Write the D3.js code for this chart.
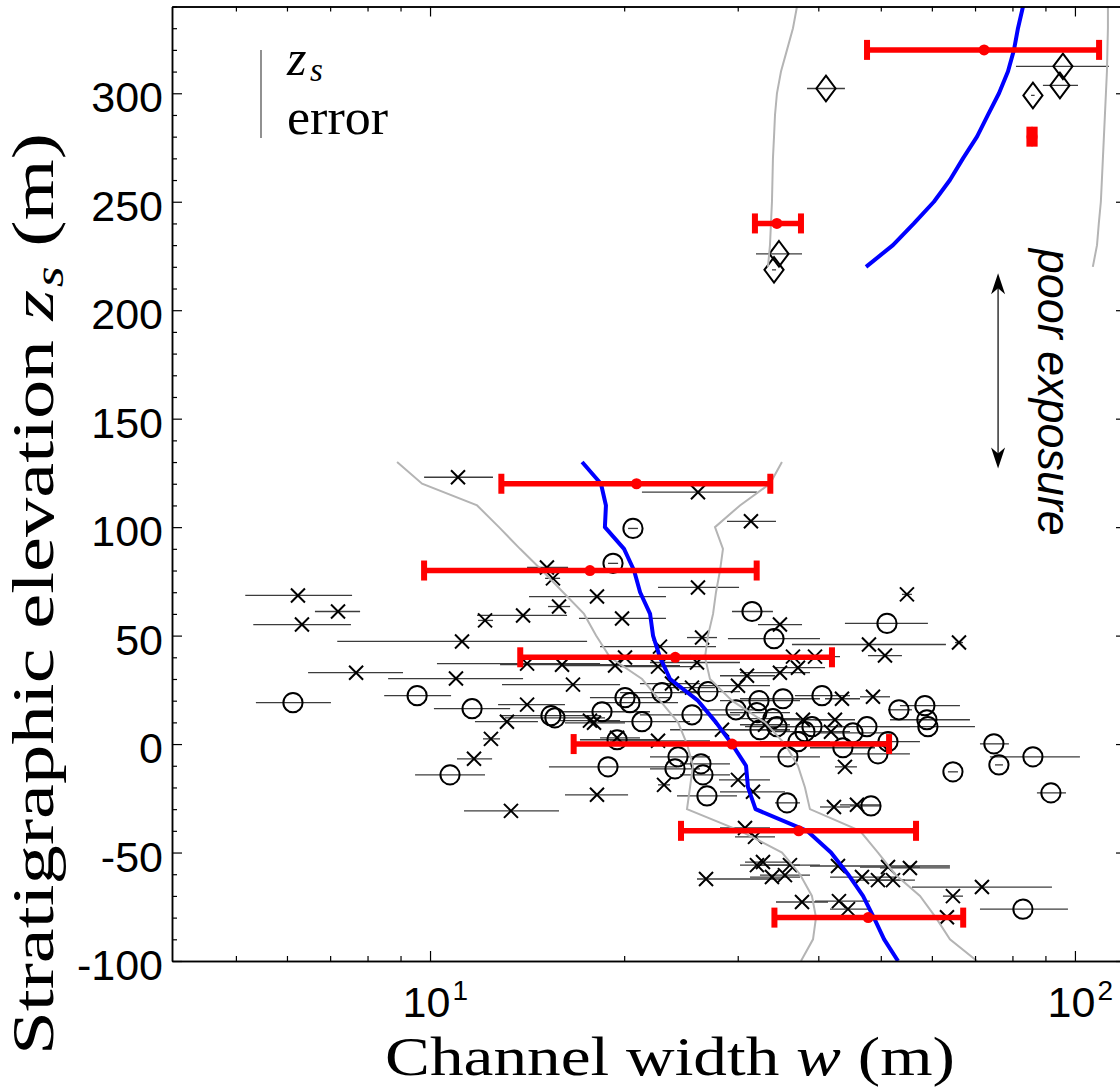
<!DOCTYPE html>
<html>
<head>
<meta charset="utf-8">
<title>Channel width versus stratigraphic elevation</title>
<script src="https://cdn.jsdelivr.net/npm/d3@7/dist/d3.min.js"></script>
<style>
  html, body { margin: 0; padding: 0; background: #fff; }
  svg { display: block; }
</style>
</head>
<body>
<svg id="chart" width="1120" height="1087"></svg>
<script>
// ---------------------------------------------------------------
// Measurements: [width w (m), elevation z_s (m), w low, w high]
// ---------------------------------------------------------------
const crosses = [
  [11.05,123.0,9.79,12.52],[26.03,116.1,21.31,32.13],[31.45,102.7,28.87,34.39],
  [15.18,81.4,14.14,16.37],[15.51,76.4,15.08,15.91],[26.03,72.2,22.57,30.14],
  [18.15,68.0,14.24,23.22],[15.85,63.4,15.24,16.49],[13.94,59.3,11.83,16.31],
  [12.17,57.0,11.87,12.52],[19.85,57.9,17.02,23.22],[34.88,55.1,32.25,37.74],
  [11.21,47.3,7.18,17.52],[26.41,49.1,25.03,27.86],[22.73,44.9,18.35,27.76],
  [6.24,68.5,5.17,7.57],[7.20,61.1,6.63,7.79],[6.33,55.1,5.32,7.54],
  [7.68,32.9,6.47,9.08],[10.97,30.2,8.61,13.94],[13.16,10.3,11.74,14.70],
  [12.43,2.4,12.08,12.84],[11.70,-6.8,11.01,12.48],[13.35,-30.8,11.29,15.85],
  [14.14,18.2,12.75,16.19],[14.14,37.1,10.25,18.35],[47.93,45.9,36.41,63.09],
  [50.75,40.8,47.76,53.92],[54.89,69.0,53.92,55.88],[66.10,46.8,65.16,67.05],
  [20.06,39.9,18.22,21.93],[16.02,36.6,12.84,19.71],[19.36,36.2,15.91,24.41],
  [22.57,35.7,19.71,26.22],[25.94,37.6,21.93,30.24],[36.54,40.3,33.66,39.81],
  [39.53,40.3,36.15,43.22],[37.20,35.2,34.27,40.97],[34.88,32.9,30.24,38.83],
  [31.01,31.5,28.16,34.27],[16.66,27.4,12.93,19.71],[23.72,27.9,21.16,26.22],
  [25.48,26.0,23.56,27.66],[30.03,26.9,26.22,33.66],[43.53,20.9,40.97,46.42],
  [48.62,21.8,46.42,51.67],[17.70,10.8,15.91,19.71],[17.96,9.8,16.19,20.06],
  [28.36,6.6,23.56,36.15],[42.45,11.2,39.53,45.60],[41.85,5.7,38.83,44.79],
  [19.50,2.9,18.35,21.16],[22.57,1.5,19.01,27.17],[43.99,-10.5,42.45,45.92],
  [23.06,-18.8,22.57,23.56],[30.03,-16.5,28.06,33.66],[31.68,-22.0,28.16,35.51],
  [18.15,-23.4,16.19,20.28],[42.30,-29.0,40.24,44.79],[45.92,-28.0,43.22,49.85],
  [30.79,-38.7,28.16,33.66],[31.91,-42.8,29.71,34.27],[32.13,-55.8,30.24,37.47],
  [32.83,-54.4,30.79,36.15],[36.15,-55.8,32.48,40.24],[42.91,-56.2,38.83,64.00],
  [51.30,-56.7,46.42,57.50],[55.48,-57.1,49.85,64.00],[26.79,-62.2,25.94,34.88],
  [33.90,-61.3,31.34,37.47],[35.51,-60.4,32.48,38.83],[46.75,-61.3,41.71,52.59],
  [49.50,-62.7,44.79,54.50],[52.22,-62.7,48.10,56.48],[71.75,-65.9,55.88,92.12],
  [64.69,-70.1,62.42,67.05],[37.74,-72.8,34.39,41.41],[43.06,-72.4,39.53,48.10],
  [44.47,-76.1,41.71,48.10],[63.32,-79.8,59.58,66.33],[33.07,8.9,30.24,36.15],
  [37.87,11.2,34.88,41.71]
];

const circles = [
  [20.64,99.4,20.28,21.01],[19.22,83.3,18.88,19.57],[31.57,61.1,29.39,34.02],
  [34.15,48.6,28.97,40.24],[51.12,55.6,43.99,59.16],[6.13,19.1,5.37,7.02],
  [9.55,22.3,8.49,10.78],[11.62,16.3,10.14,13.31],[10.74,-14.2,9.48,12.17],
  [15.40,13.1,12.84,18.35],[15.62,12.1,13.07,18.68],[20.06,21.4,17.70,23.56],
  [20.42,19.1,18.15,24.24],[18.48,14.9,15.91,21.93],[21.31,10.3,18.35,25.30],
  [22.89,23.7,19.71,26.22],[25.48,13.5,21.16,30.24],[26.98,24.2,24.41,30.24],
  [29.81,15.8,26.22,32.48],[32.37,20.0,28.16,37.47],[32.13,14.5,29.18,36.15],
  [35.26,20.9,30.24,40.24],[40.53,22.3,36.80,44.79],[53.35,15.8,51.30,55.88],
  [58.53,17.7,53.54,66.33],[58.95,11.2,51.67,68.74],[59.16,8.0,49.85,69.98],
  [34.02,11.7,30.24,37.47],[34.51,8.0,30.79,38.83],[32.48,6.6,29.18,36.15],
  [39.11,8.0,34.88,44.79],[38.14,5.7,34.27,43.22],[47.59,8.0,41.71,55.48],
  [45.27,5.2,40.24,51.67],[51.30,1.1,46.42,57.50],[37.20,1.1,32.48,41.71],
  [43.68,-1.7,38.83,48.97],[49.50,-4.5,44.79,55.48],[35.89,-5.9,32.48,40.24],
  [19.50,2.0,17.08,22.73],[24.24,-5.9,21.93,27.17],[26.31,-9.1,24.41,29.18],
  [23.98,-11.4,21.93,26.22],[26.50,-14.2,24.41,29.18],[18.88,-10.5,15.29,24.15],
  [26.88,-23.9,24.15,29.92],[35.77,-27.1,34.27,37.47],[48.28,-28.5,44.79,49.85],
  [74.88,0.1,71.24,79.00],[76.23,-9.6,75.16,77.34],[86.07,-5.9,73.82,101.8],
  [64.69,-12.8,63.54,65.86],[91.79,-22.5,87.31,96.85],[83.06,-76.1,71.24,97.54]
];

const diamonds = [
  [41.11,302.2,38.42,43.99],[95.80,312.4,81.01,112.9],[94.78,303.6,89.20,101.1],
  [86.07,299.0,85.5,86.6],[34.76,226.0,32.02,37.74],[34.15,218.6,33.9,34.4]
];

// Binned statistics (red): elevation, mean width, lower / upper width
const binZ    = [320, 280, 240, 120, 80, 40, 0, -40, -80];
const binMean = [72.3, 85.8, 34.5, 20.9, 17.7, 24.0, 29.4, 37.3, 47.8];
const binLow  = [47.6, 85.0, 31.9, 12.9, 9.79, 13.8, 16.7, 24.5, 34.2];
const binHigh = [109.0, 86.6, 37.6, 33.7, 32.1, 42.0, 51.5, 56.7, 67.1];

// Running mean (blue) and envelope (grey), lower section
const zLower    = [130,120,110,100,90,80,70,60,50,40,30,20,10,0,-10,-20,-30,-40,-50,-60,-70,-80,-90,-100];
const meanLower = [17.21,18.41,18.74,18.67,19.99,20.72,21.17,21.94,22.17,22.73,23.56,26.03,27.76,29.39,30.90,31.12,31.97,38.42,41.85,44.47,46.92,48.78,50.60,53.17];
const lowLower  = [8.89,9.72,11.83,12.79,13.79,14.92,16.08,17.33,18.09,19.01,21.32,22.73,24.24,25.03,25.57,25.30,25.03,30.25,35.14,37.46,39.10,39.67,39.25,37.60];
const highLower = [35.13,33.66,30.24,27.66,28.46,28.16,27.76,27.47,26.98,26.69,27.17,29.39,33.07,35.51,37.19,38.14,38.82,46.42,49.50,52.60,57.51,60.87,64.00,70.49];

// Running mean and envelope, upper section
const zUpper    = [220,230,240,250,260,270,280,290,300,310,320,330,340];
const meanUpper = [47.43,52.22,56.28,60.44,64.00,67.06,70.50,73.30,76.25,78.73,80.44,81.60,83.08];
const lowUpper  = [33.42,33.66,33.78,33.90,33.96,34.02,34.15,34.27,34.51,35.01,35.77,36.54,37.07];
const highUpper = [106.6,108.2,108.9,109.7,110.1,110.5,110.9,111.3,111.7,112.1,112.3,112.5,112.5];

// Axis ticks
const yMajor = [-100, -50, 0, 50, 100, 150, 200, 250, 300];
const yMinor = d3.range(-100, 341, 10).filter(v => v % 50 !== 0);
const xMajor = [10, 100];
const xMinor = [5, 6, 7, 8, 9, 20, 30, 40, 50, 60, 70, 80, 90];

// Annotation for the gap in the section
const gapArrowW = 76;
const gapArrowZ = [217, 127];
const gapTextW = 87.6;
const gapTextZ = 228.3;

// ---------------------------------------------------------------
const plot = {left: 172, right: 1126, top: 6.5, bottom: 961};
const x = d3.scaleLog().domain([3.98, 120]).range([plot.left, plot.right]);
const y = d3.scaleLinear().domain([-100, 340]).range([plot.bottom, plot.top]);

const SANS = '"Liberation Sans", Arial, Helvetica, sans-serif';
const SERIF = '"Liberation Serif", "Times New Roman", serif';

const svg = d3.select('#chart');
svg.append('rect').attr('width', 1120).attr('height', 1087).attr('fill', '#fff');

svg.append('defs').append('clipPath').attr('id', 'plot-clip')
  .append('rect')
  .attr('x', plot.left).attr('y', plot.top)
  .attr('width', plot.right - plot.left).attr('height', plot.bottom - plot.top);

const body = svg.append('g').attr('clip-path', 'url(#plot-clip)');

// --- horizontal error bars of the individual channels
const allPoints = crosses.concat(circles, diamonds);
body.append('g').attr('class', 'errbars')
  .selectAll('line').data(allPoints).join('line')
  .attr('x1', d => x(d[2])).attr('x2', d => x(d[3]))
  .attr('y1', d => y(d[1])).attr('y2', d => y(d[1]))
  .attr('stroke', '#3c3c3c').attr('stroke-width', 1.3);

// --- markers
const markers = body.append('g').attr('class', 'markers')
  .attr('fill', 'none').attr('stroke', '#000').attr('stroke-width', 2);

markers.append('g').selectAll('path').data(crosses).join('path')
  .attr('transform', d => `translate(${x(d[0])},${y(d[1])})`)
  .attr('d', 'M-7,-7L7,7M-7,7L7,-7');

markers.append('g').selectAll('circle').data(circles).join('circle')
  .attr('cx', d => x(d[0])).attr('cy', d => y(d[1])).attr('r', 9.6);

markers.append('g').selectAll('path').data(diamonds).join('path')
  .attr('transform', d => `translate(${x(d[0])},${y(d[1])})`)
  .attr('d', 'M0,-12.8L9.6,0L0,12.8L-9.6,0Z');

// --- running envelope and mean
const line = d3.line().x(d => x(d[0])).y(d => y(d[1]));
const zip = (w, z) => w.map((v, i) => [v, z[i]]);

const curves = body.append('g').attr('fill', 'none');
[[lowLower, zLower], [highLower, zLower], [lowUpper, zUpper], [highUpper, zUpper]].forEach(([w, z]) => {
  curves.append('path').attr('d', line(zip(w, z)))
    .attr('stroke', '#b4b4b4').attr('stroke-width', 2);
});
[[meanLower, zLower], [meanUpper, zUpper]].forEach(([w, z]) => {
  curves.append('path').attr('d', line(zip(w, z)))
    .attr('stroke', '#0000ff').attr('stroke-width', 4).attr('stroke-linejoin', 'round');
});

// --- binned mean with spread (red)
const bins = binZ.map((z, i) => ({z, m: binMean[i], lo: binLow[i], hi: binHigh[i]}));
const red = body.append('g').attr('fill', '#ff0000');
red.selectAll('line').data(bins).join('line')
  .attr('x1', d => x(d.lo)).attr('x2', d => x(d.hi))
  .attr('y1', d => y(d.z)).attr('y2', d => y(d.z))
  .attr('stroke', '#ff0000').attr('stroke-width', 5.5);
red.selectAll('rect.capL').data(bins).join('rect').attr('class', 'capL')
  .attr('x', d => x(d.lo) - 3).attr('y', d => y(d.z) - 10)
  .attr('width', 6).attr('height', 20);
red.selectAll('rect.capR').data(bins).join('rect').attr('class', 'capR')
  .attr('x', d => x(d.hi) - 3).attr('y', d => y(d.z) - 10)
  .attr('width', 6).attr('height', 20);
red.selectAll('circle').data(bins).join('circle')
  .attr('cx', d => x(d.m)).attr('cy', d => y(d.z)).attr('r', 5.5);

// --- axes (ticks point inward on all four sides)
function styleAxis(g) {
  g.attr('font-family', SANS).attr('font-size', 43);
  g.select('.domain').attr('stroke', '#000').attr('stroke-width', 1.5);
  g.selectAll('.tick line').attr('stroke', '#000').attr('stroke-width', 1.2);
  g.selectAll('.tick text').attr('fill', '#000');
}

// left
svg.append('g').attr('transform', `translate(${plot.left},0)`)
  .call(d3.axisLeft(y).tickValues(yMinor).tickSizeInner(-5).tickSizeOuter(0).tickFormat(''))
  .call(styleAxis);
svg.append('g').attr('transform', `translate(${plot.left},0)`)
  .call(d3.axisLeft(y).tickValues(yMajor).tickSizeInner(-10).tickSizeOuter(0).tickPadding(9)
        .tickFormat(d => String(d)))
  .call(styleAxis)
  .call(g => g.selectAll('.tick text').attr('dy', '0.43em'));

// right
svg.append('g').attr('transform', `translate(${plot.right},0)`)
  .call(d3.axisRight(y).tickValues(yMinor).tickSizeInner(-5).tickSizeOuter(0).tickFormat(''))
  .call(styleAxis);
svg.append('g').attr('transform', `translate(${plot.right},0)`)
  .call(d3.axisRight(y).tickValues(yMajor).tickSizeInner(-10).tickSizeOuter(0).tickFormat(''))
  .call(styleAxis);

// bottom: mantissa "10" from the axis, exponent as its own small label
svg.append('g').attr('transform', `translate(0,${plot.bottom})`)
  .call(d3.axisBottom(x).tickValues(xMinor).tickSizeInner(-5).tickSizeOuter(0).tickFormat(''))
  .call(styleAxis);
svg.append('g').attr('transform', `translate(0,${plot.bottom})`)
  .call(d3.axisBottom(x).tickValues(xMajor).tickSizeInner(-10).tickSizeOuter(0).tickPadding(25.5)
        .tickFormat(() => '10'))
  .call(styleAxis)
  .call(g => g.selectAll('.tick text').attr('dx', -4))
  .call(g => g.selectAll('.tick').append('text')
    .attr('fill', '#000').attr('font-size', 28).attr('text-anchor', 'start')
    .attr('x', 22).attr('y', 39)
    .text(d => Math.round(Math.log10(d))));

// top
svg.append('g').attr('transform', `translate(0,${plot.top})`)
  .call(d3.axisTop(x).tickValues(xMinor).tickSizeInner(-5).tickSizeOuter(0).tickFormat(''))
  .call(styleAxis);
svg.append('g').attr('transform', `translate(0,${plot.top})`)
  .call(d3.axisTop(x).tickValues(xMajor).tickSizeInner(-10).tickSizeOuter(0).tickFormat(''))
  .call(styleAxis);

// --- axis titles
const xTitle = svg.append('text')
  .attr('x', 670).attr('y', 1075).attr('text-anchor', 'middle')
  .attr('font-family', SERIF).attr('font-size', 54.5)
  .attr('textLength', 570).attr('lengthAdjust', 'spacingAndGlyphs');
xTitle.append('tspan').text('Channel width ');
xTitle.append('tspan').attr('font-style', 'italic').text('w');
xTitle.append('tspan').text(' (m)');

const yTitle = svg.append('text')
  .attr('transform', 'translate(53,594) rotate(-90)').attr('text-anchor', 'middle')
  .attr('font-family', SERIF).attr('font-size', 60)
  .attr('textLength', 922).attr('lengthAdjust', 'spacingAndGlyphs');
yTitle.append('tspan').text('Stratigraphic elevation ');
yTitle.append('tspan').attr('font-style', 'italic').text('z');
yTitle.append('tspan').attr('font-style', 'italic').attr('font-size', 41).attr('dx', 2).attr('dy', 10).text('s');
yTitle.append('tspan').attr('dy', -10).text(' (m)');

// --- legend
const legend = svg.append('g').attr('font-family', SERIF).attr('font-size', 50);
legend.append('line').attr('x1', 261).attr('x2', 261).attr('y1', 50).attr('y2', 138)
  .attr('stroke', '#555').attr('stroke-width', 1.3);
legend.append('text').attr('x', 287).attr('y', 75).attr('font-style', 'italic').text('z');
legend.append('text').attr('x', 310).attr('y', 81).attr('font-style', 'italic')
  .attr('font-size', 33).text('s');
legend.append('text').attr('x', 287).attr('y', 134)
  .attr('textLength', 101).attr('lengthAdjust', 'spacingAndGlyphs').text('error');

// --- poor exposure annotation
const ax = x(gapArrowW), ay1 = y(gapArrowZ[0]), ay2 = y(gapArrowZ[1]);
const ann = svg.append('g');
ann.append('line').attr('x1', ax).attr('x2', ax).attr('y1', ay1 + 8).attr('y2', ay2 - 8)
  .attr('stroke', '#000').attr('stroke-width', 1.2);
ann.append('path').attr('fill', '#000')
  .attr('d', `M${ax},${ay1}L${ax - 7},${ay1 + 21}L${ax},${ay1 + 15}L${ax + 7},${ay1 + 21}Z`);
ann.append('path').attr('fill', '#000')
  .attr('d', `M${ax},${ay2}L${ax - 7},${ay2 - 21}L${ax},${ay2 - 15}L${ax + 7},${ay2 - 21}Z`);
ann.append('text')
  .attr('transform', `translate(${x(gapTextW)},${y(gapTextZ)}) rotate(90)`)
  .attr('font-family', SANS).attr('font-style', 'italic').attr('font-size', 46)
  .attr('textLength', 287).attr('lengthAdjust', 'spacingAndGlyphs')
  .text('poor exposure');
</script>
</body>
</html>
